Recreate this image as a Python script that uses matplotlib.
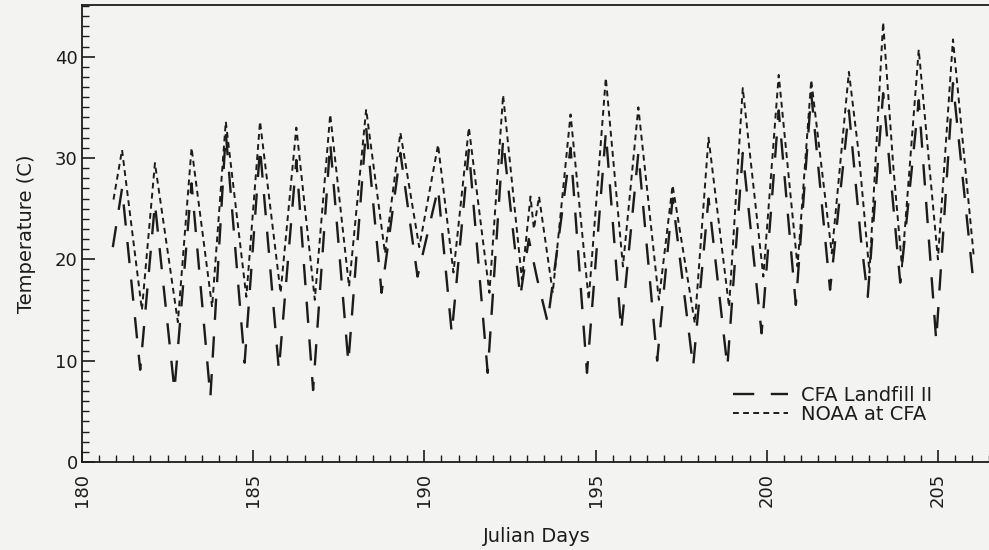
import matplotlib
matplotlib.use("Agg")
import matplotlib.pyplot as plt
from matplotlib.ticker import MultipleLocator

# daily extremes (Julian day, deg C)
cfa_days = [180.9, 181.17, 181.7, 182.13, 182.7, 183.2, 183.75, 184.2, 184.75,
            185.2, 185.75, 186.26, 186.75, 187.25, 187.78, 188.3, 188.75, 189.3,
            189.8, 190.4, 190.8, 191.3, 191.85, 192.3, 192.8, 193.05, 193.3, 193.6,
            194.27, 194.75, 195.3, 195.75, 196.25, 196.8, 197.25, 197.85, 198.3,
            198.85, 199.3, 199.85, 200.35, 200.85, 201.3, 201.85, 202.4, 202.75,
            202.95, 203.4, 203.9, 204.44, 204.95, 205.44, 206.05]
cfa_temp = [21.2, 27.0, 9.1, 25.5, 7.1, 27.5, 6.4, 32.5, 9.8,
            31.0, 9.1, 29.8, 7.1, 31.5, 9.8, 33.0, 16.7, 30.5,
            18.3, 27.0, 12.7, 30.8, 8.8, 31.8, 16.3, 22.0, 18.0, 13.8,
            31.0, 8.8, 32.5, 13.0, 30.5, 10.0, 26.0, 9.4, 26.0,
            9.4, 30.5, 12.7, 34.7, 15.5, 36.4, 17.0, 34.7, 22.0,
            16.3, 36.4, 17.7, 35.7, 12.0, 37.4, 17.3]

noaa_days = [180.92, 181.17, 181.75, 182.13, 182.8, 183.2, 183.8, 184.2, 184.8,
             185.2, 185.8, 186.26, 186.8, 187.25, 187.8, 188.3, 188.85, 189.3,
             189.85, 190.4, 190.85, 191.3, 191.9, 192.3, 192.85, 193.1, 193.2,
             193.35, 193.75, 194.27, 194.8, 195.3, 195.8, 196.25, 196.85, 197.25,
             197.9, 198.3, 198.9, 199.3, 199.9, 200.35, 200.9, 201.3, 201.9,
             202.4, 202.7, 203.0, 203.4, 203.7, 203.95, 204.44, 205.0, 205.44,
             206.05]
noaa_temp = [25.9, 30.8, 15.0, 29.5, 13.8, 31.0, 15.3, 33.6, 16.3,
             33.6, 16.7, 33.0, 16.0, 34.3, 17.3, 34.8, 20.6, 32.5,
             21.2, 31.3, 18.7, 33.0, 16.7, 36.2, 18.0, 26.2, 23.0,
             26.2, 16.7, 34.3, 16.0, 37.9, 19.3, 35.0, 16.0, 27.3,
             13.7, 32.0, 15.3, 36.9, 18.3, 38.2, 19.3, 37.7, 20.6,
             38.5, 30.1, 18.7, 43.4, 29.0, 19.3, 40.7, 20.0, 41.7,
             20.2]

x_ticks = [180, 185, 190, 195, 200, 205]
y_ticks = [0, 10, 20, 30, 40]

paper = "#f3f3f1"
ink = "#1c1c1c"

fig = plt.figure(figsize=(9.89, 5.5), dpi=100, facecolor=paper)
ax = fig.add_axes([82 / 989, 88 / 550, 1 - 82 / 989 + 0.002, 457 / 550])
ax.set_facecolor(paper)

ax.plot(cfa_days, cfa_temp, color=ink, lw=1.7, dashes=(9, 7), label="CFA Landfill II")
ax.plot(noaa_days, noaa_temp, color=ink, lw=1.4, dashes=(3, 2.2), label="NOAA at CFA")

ax.set_xlim(180, 206.55)
ax.set_ylim(0, 45.1)
ax.set_xticks(x_ticks)
ax.set_yticks(y_ticks)
ax.xaxis.set_minor_locator(MultipleLocator(0.5))
ax.yaxis.set_minor_locator(MultipleLocator(1))
ax.tick_params(which="both", direction="in", colors=ink, labelsize=13, top=False, right=False)
ax.tick_params(which="major", length=9, width=1.2)
ax.tick_params(which="minor", length=5, width=1.0)
ax.tick_params(axis="x", labelrotation=90, pad=8)
ax.tick_params(axis="y", pad=3)
ax.spines["right"].set_visible(False)
for s in ["left", "bottom", "top"]:
    ax.spines[s].set_color(ink)
    ax.spines[s].set_linewidth(1.3)

ax.set_xlabel("Julian Days", fontsize=14, color=ink, labelpad=14)
ax.set_ylabel("Temperature (C)", fontsize=14, color=ink, labelpad=14)

ax.legend(loc="lower right", bbox_to_anchor=(0.955, 0.045), frameon=False,
          fontsize=14, handlelength=2.8, handletextpad=0.7, labelspacing=0.0,
          labelcolor=ink)

fig.savefig("out.png", dpi=100, facecolor=paper)
